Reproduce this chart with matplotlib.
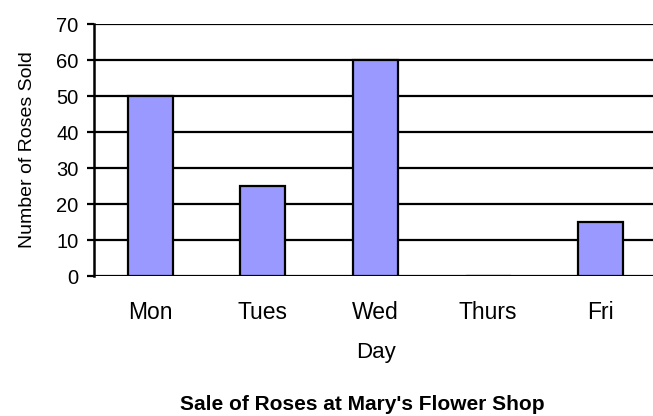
import matplotlib
matplotlib.use('Agg')
import matplotlib.pyplot as plt

days = ['Mon', 'Tues', 'Wed', 'Thurs', 'Fri']
roses_sold = [50, 25, 60, 0, 15]
y_ticks = [0, 10, 20, 30, 40, 50, 60, 70]

plt.rcParams['font.family'] = ['Liberation Sans', 'DejaVu Sans']

W, H = 653, 416
fig = plt.figure(figsize=(W / 100, H / 100), dpi=100)
ax = fig.add_axes([94 / W, 140 / H, 563 / W, 252 / H])

ax.bar(range(len(days)), roses_sold, width=0.4, color='#9999ff',
       edgecolor='black', linewidth=1.6, zorder=3)

ax.set_xlim(-0.5, len(days) - 0.5)
ax.set_ylim(0, 70)
ax.set_yticks(y_ticks)
ax.yaxis.grid(True, color='black', linewidth=1.6, zorder=0)
ax.set_axisbelow(True)

for s in ['top', 'right', 'bottom']:
    ax.spines[s].set_visible(False)
ax.spines['left'].set_linewidth(1.8)

ax.set_xticks(range(len(days)))
ax.set_xticklabels(days, fontsize=16.5)
ax.tick_params(axis='x', length=0, pad=18)
ax.tick_params(axis='y', length=5, width=1.6, labelsize=14.5, pad=6)

ax.set_xlabel('Day', fontsize=16, labelpad=13)
ax.set_ylabel('Number of Roses Sold', fontsize=14, labelpad=15)

# title sits below the chart, as in the original
fig.text(362 / W, 1 - 405 / H, "Sale of Roses at Mary's Flower Shop",
         ha='center', va='center', fontsize=15, fontweight='bold')

fig.savefig('out.png', dpi=100)
